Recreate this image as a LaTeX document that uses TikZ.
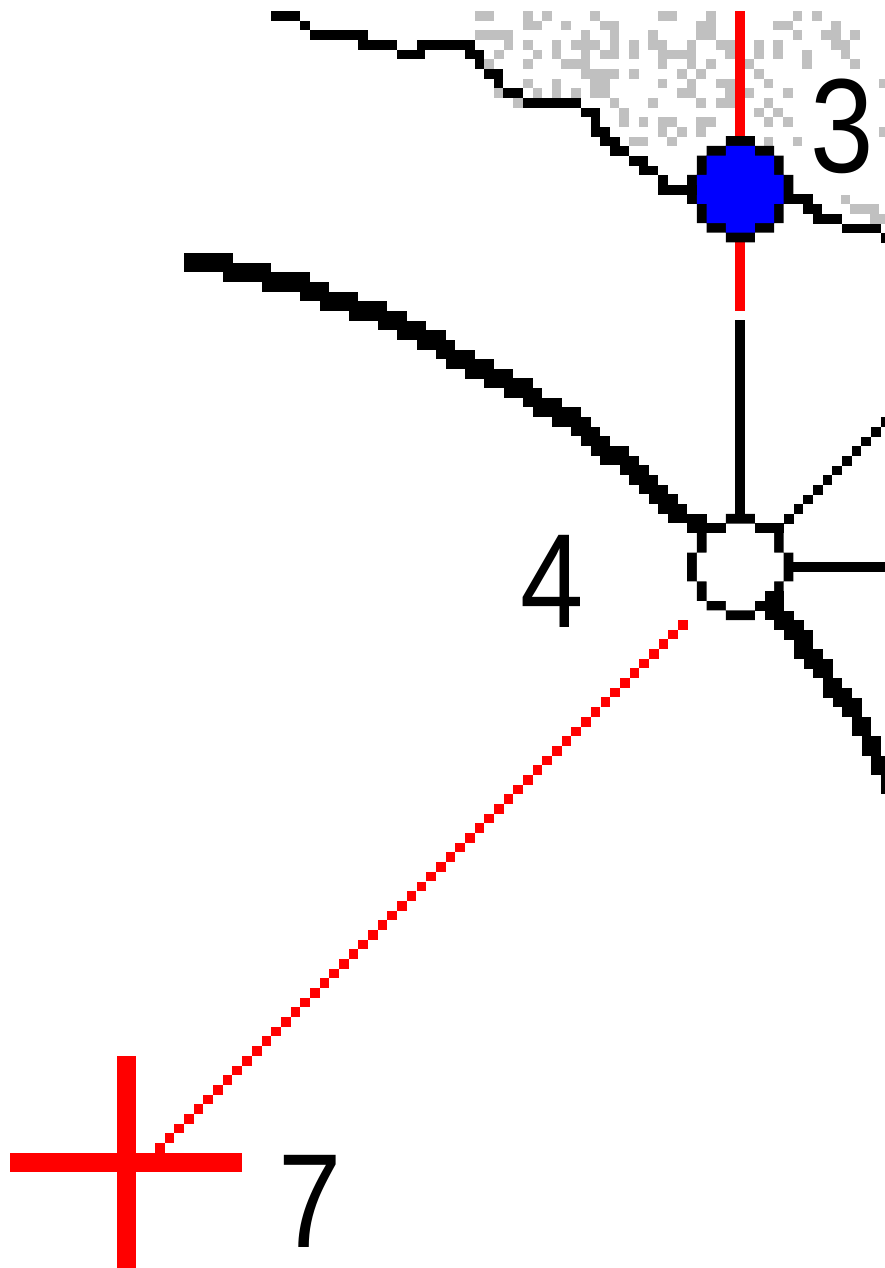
\documentclass[tikz,border=0pt]{standalone}
\usepackage{fontspec}
\usetikzlibrary{calc}
\newfontfamily\digitfont[FakeStretch=0.85]{Liberation Sans}
\definecolor{stipple}{HTML}{C0C0C0}
\tikzset{
  redline/.style={draw=red,line width=9.65pt},
  inkline/.style={draw=black,line width=9.65pt},
  crossbar/.style={draw=red,line width=19pt},
  digit/.style={inner sep=0pt,font=\digitfont\fontsize{134}{134}\selectfont},
  pics/pixdot/.style={code={
    \begin{scope}[scale=9.65]
      \fill[black] (-1.5,-5.5) -- (1.5,-5.5) -- (1.5,-4.5) -- (3.5,-4.5) -- (3.5,-3.5) -- (4.5,-3.5) -- (4.5,-1.5) -- (5.5,-1.5)
        -- (5.5,1.5) -- (4.5,1.5) -- (4.5,3.5) -- (3.5,3.5) -- (3.5,4.5) -- (1.5,4.5) -- (1.5,5.5) -- (-1.5,5.5)
        -- (-1.5,4.5) -- (-3.5,4.5) -- (-3.5,3.5) -- (-4.5,3.5) -- (-4.5,1.5) -- (-5.5,1.5) -- (-5.5,-1.5)
        -- (-4.5,-1.5) -- (-4.5,-3.5) -- (-3.5,-3.5) -- (-3.5,-4.5) -- (-1.5,-4.5) -- cycle;
      \fill[#1] (-1.5,-4.5) -- (1.5,-4.5) -- (1.5,-3.5) -- (3.5,-3.5) -- (3.5,-1.5) -- (4.5,-1.5) -- (4.5,1.5) -- (3.5,1.5)
        -- (3.5,3.5) -- (1.5,3.5) -- (1.5,4.5) -- (-1.5,4.5) -- (-1.5,3.5) -- (-3.5,3.5) -- (-3.5,1.5) -- (-4.5,1.5)
        -- (-4.5,-1.5) -- (-3.5,-1.5) -- (-3.5,-3.5) -- (-1.5,-3.5) -- cycle;
    \end{scope}
  }}
}
\begin{document}
\begin{tikzpicture}[x=1pt,y=-1pt]
  \useasboundingbox (0,0) rectangle (885,1268);
  \coordinate (obs) at (740.3,189.3);
  \coordinate (stn) at (740.3,567);
  \coordinate (cross) at (126.5,1162.5);
  \coordinate (rayA) at (155,1143);
  \coordinate (rayB) at (678,620);
  \coordinate (spokeA) at (784,514);
  \coordinate (spokeB) at (880.5,417.4);
  % stippled ground
  \foreach \rr/\cols in {0/{0,1,5,7,12,19,20,24,33,35},1/{5,6,9,13,14,23,24,31,32,37},2/{0,1,2,3,11,14,18,23,24,33,36,37,39},
      3/{3,5,8,10,11,12,14,16,18,19,22,25,26,29,31,37,38},4/{2,6,8,11,13,14,16,19,20,21,22,26,29,31,34,38},
      5/{1,5,9,10,11,19,22,24,28,34,39},6/{11,12,13,14,16,21,23,29},7/{5,8,12,13,19,22,25,26,30,42},
      8/{2,6,8,10,12,13,21,22,26,28,32},9/{4,14,18,23,25,26,30},10/{15,29,31},11/{15,17,19,20,23,24,30,32},
      12/{19,21,23,42},13/{16,17,20,30,33},19/{38},20/{39,40,41},21/{41,42}}
    \foreach \cc in \cols
      \fill[stipple] ({474.8+9.63*\cc},{11+9.66*\rr}) rectangle ++(9.65,9.66);
  % sight line
  \draw[redline] (obs) --++(0,-178.3);
  \draw[redline] (obs) --++(0,121.7);
  \draw[inkline] (stn) --++(0,-247);
  \draw[inkline] (stn) --++(145,0);
  \pic at (obs) {pixdot=blue};
  \pic at (stn) {pixdot=white};
  % linework, row by row
  \foreach \xa/\xb/\ya in {271/300/11,300/310/20.7,310/368/30.3,358/397/40,417/475/40,397/425/49.6,465/484/49.6,475/484/59.3,
      484/503/69,494/503/78.6,503/523/88.3,523/581/97.9,581/600/107.6,591/600/117.3,591/610/126.9,600/620/136.6,610/629/146.2,
      629/648/155.9,639/658/165.6,658/668/175.2,658/697/184.9,784/813/194.5,803/822/204.2,813/842/213.9,842/881/223.5,881/885/233.2,
      184/233/253,184/271/262.5,223/310/272.2,262/329/281.8,300/358/291.5,320/387/301.2,349/407/310.8,378/426/320.5,397/446/330.1,
      417/455/339.8,436/475/349.5,446/494/359.1,465/513/368.8,484/533/378.4,504/542/388.1,523/562/397.7,533/581/407.4,552/591/417,
      571/600/426.7,581/610/436.4,591/629/446,600/639/455.7,620/649/465.3,629/658/475,639/668/484.7,649/678/494.3,658/687/504,
      668/707/513.6,687/726/523.3,755/784/523.3,765/784/591.3,755/784/601,765/794/610.6,774/804/620.3,784/813/630,794/813/639.6,
      794/823/649.3,804/833/658.9,813/833/668.6,823/842/678.2,823/852/687.9,833/862/697.6,842/862/707.2,852/871/716.9,852/871/726.5,
      862/881/736.2,862/881/745.9,871/885/755.5,871/885/765.2,881/885/774.8,881/885/784.5}
    \fill[black] (\xa,\ya) rectangle (\xb,\ya+9.7);
  \foreach \k in {0,...,10}
    \fill[black] ($(spokeA)!\k/10!(spokeB)$) rectangle ++(9.65,9.66);
  % offset to the stake
  \foreach \k in {0,...,54}
    \fill[red] ($(rayA)!\k/54!(rayB)$) rectangle ++(9.65,9.66);
  \draw[crossbar] (cross)++(-116.5,0) --++(232,0);
  \draw[crossbar] (cross)++(0,-106.5) --++(0,212);
  \node[digit] (lblA) at (842,126.5) {3};
  \node[digit] (lblB) at (552,581.5) {4};
  \node[digit] (lblC) at (310,1201) {7};
\end{tikzpicture}
\end{document}
